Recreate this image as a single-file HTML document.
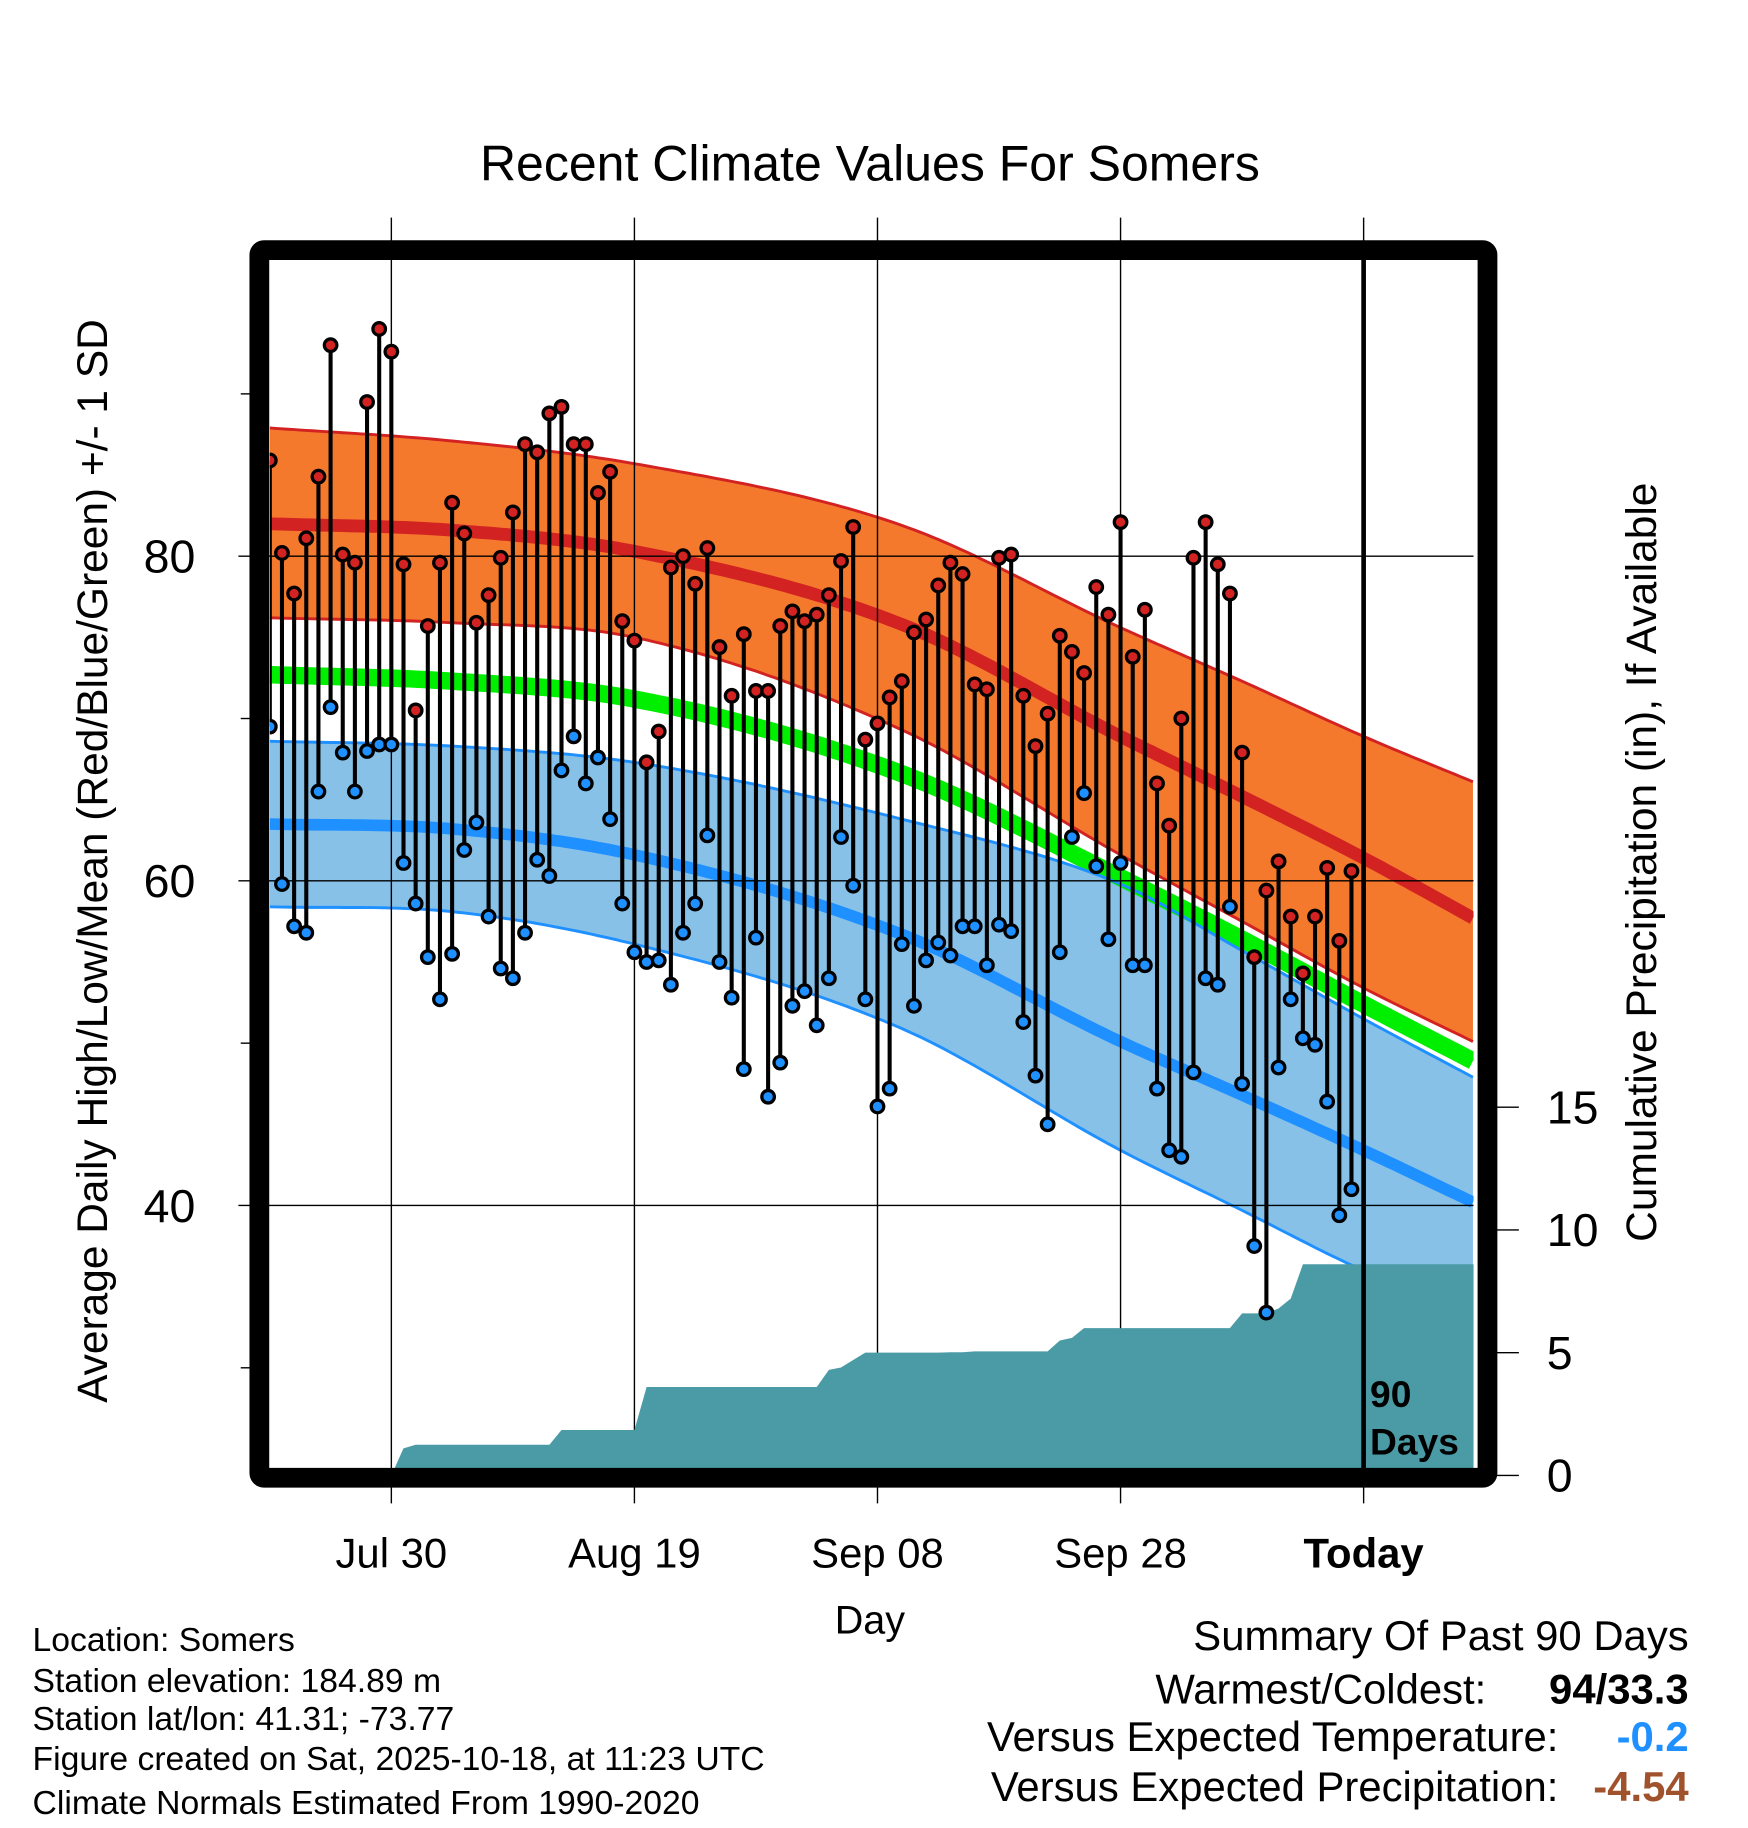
<!DOCTYPE html>
<html><head><meta charset="utf-8"><title>Recent Climate Values For Somers</title>
<style>
html,body{margin:0;padding:0;background:#fff;}
svg{display:block;}
text{font-family:"Liberation Sans",Arial,sans-serif;}
</style></head>
<body>
<svg id="chart" xmlns="http://www.w3.org/2000/svg" width="1748" height="1828" viewBox="0 0 1503 1571" preserveAspectRatio="none">
<defs><clipPath id="plotclip"><rect x="232" y="223.5" width="1035" height="1038.5"/></clipPath></defs>
<rect width="1503" height="1571" fill="#fff"/>
<text x="748" y="155" font-size="43" text-anchor="middle">Recent Climate Values For Somers</text>
<g id="normals" clip-path="url(#plotclip)"></g>
<g id="grid"></g>
<g id="precip" clip-path="url(#plotclip)"></g>
<g id="obs" clip-path="url(#plotclip)"></g>
<g id="axes"></g>
<text x="1178" y="1209" font-size="32" font-weight="bold">90</text>
<text x="1178" y="1250" font-size="32" font-weight="bold">Days</text>
<rect x="223" y="215" width="1056" height="1055" rx="4" fill="none" stroke="#000" stroke-width="17"/>
<text transform="translate(92,740) rotate(-90)" font-size="36.5" text-anchor="middle">Average Daily High/Low/Mean (Red/Blue/Green) +/- 1 SD</text>
<text transform="translate(1424,741) rotate(-90)" font-size="36.5" text-anchor="middle">Cumulative Precipitation (in), If Available</text>
<text x="748" y="1404" font-size="34" text-anchor="middle">Day</text>
<g font-size="29">
<text x="28" y="1419">Location: Somers</text>
<text x="28" y="1454">Station elevation: 184.89 m</text>
<text x="28" y="1487">Station lat/lon: 41.31; -73.77</text>
<text x="28" y="1521">Figure created on Sat, 2025-10-18, at 11:23 UTC</text>
<text x="28" y="1559">Climate Normals Estimated From 1990-2020</text>
</g>
<g font-size="36">
<text x="1452" y="1418" text-anchor="end">Summary Of Past 90 Days</text>
<text x="1278" y="1464" text-anchor="end">Warmest/Coldest:</text>
<text x="1452" y="1464" text-anchor="end" font-weight="bold">94/33.3</text>
<text x="1340" y="1505" text-anchor="end">Versus Expected Temperature:</text>
<text x="1452" y="1505" text-anchor="end" font-weight="bold" fill="#1e90ff">-0.2</text>
<text x="1340" y="1548" text-anchor="end">Versus Expected Precipitation:</text>
<text x="1452" y="1548" text-anchor="end" font-weight="bold" fill="#a0522d">-4.54</text>
</g>
</svg>
<script>
const highs=[85.9,80.2,77.7,81.1,84.9,93.0,80.1,79.6,89.5,94.0,92.6,79.5,70.5,75.7,79.6,83.3,81.4,75.9,77.6,79.9,82.7,86.9,86.4,88.8,89.2,86.9,86.9,83.9,85.2,76.0,74.8,67.3,69.2,79.3,80.0,78.3,80.5,74.4,71.4,75.2,71.7,71.7,75.7,76.6,76.0,76.4,77.6,79.7,81.8,68.7,69.7,71.3,72.3,75.3,76.1,78.2,79.6,78.9,72.1,71.8,79.9,80.1,71.4,68.3,70.3,75.1,74.1,72.8,78.1,76.4,82.1,73.8,76.7,66.0,63.4,70.0,79.9,82.1,79.5,77.7,67.9,55.3,59.4,61.2,57.8,54.3,57.8,60.8,56.3,60.6];
const lows=[69.5,59.8,57.2,56.8,65.5,70.7,67.9,65.5,68.0,68.4,68.4,61.1,58.6,55.3,52.7,55.5,61.9,63.6,57.8,54.6,54.0,56.8,61.3,60.3,66.8,68.9,66.0,67.6,63.8,58.6,55.6,55.0,55.1,53.6,56.8,58.6,62.8,55.0,52.8,48.4,56.5,46.7,48.8,52.3,53.2,51.1,54.0,62.7,59.7,52.7,46.1,47.2,56.1,52.3,55.1,56.2,55.4,57.2,57.2,54.8,57.3,56.9,51.3,48.0,45.0,55.6,62.7,65.4,60.9,56.4,61.1,54.8,54.8,47.2,43.4,43.0,48.2,54.0,53.6,58.4,47.5,37.5,33.4,48.5,52.7,50.3,49.9,46.4,39.4,41.0];
const precipCum=[0,0,0,0,0,0,0,0,0,0,0,1.1,1.25,1.25,1.25,1.25,1.25,1.25,1.25,1.25,1.25,1.25,1.25,1.25,1.85,1.85,1.85,1.85,1.85,1.85,1.85,3.6,3.6,3.6,3.6,3.6,3.6,3.6,3.6,3.6,3.6,3.6,3.6,3.6,3.6,3.6,4.3,4.4,4.7,5.0,5.0,5.0,5.0,5.0,5.0,5.0,5.02,5.02,5.05,5.05,5.05,5.05,5.05,5.05,5.05,5.5,5.6,6.0,6.0,6.0,6.0,6.0,6.0,6.0,6.0,6.0,6.0,6.0,6.0,6.0,6.6,6.6,6.6,6.8,7.2,8.6,8.6,8.6,8.6,8.6];
const normDays=[0,15,30,52,70,80,90,99];
const normHighUpper=[87.9,87.1,85.7,81.9,75.6,72.3,68.9,66.1];
const normHigh=[82.0,81.6,80.3,75.8,68.9,65.2,61.4,57.7];
const normHighLower=[76.2,75.9,75.0,69.3,61.6,57.5,53.4,50.1];
const normMean=[72.7,72.3,71.2,66.6,60.2,56.4,52.4,48.9];
const normLowUpper=[68.6,68.3,67.3,63.8,59.8,55.7,51.5,47.9];
const normLow=[63.5,63.2,61.6,56.7,50.1,46.8,43.4,40.2];
const normLowLower=[58.4,58.1,56.1,50.9,43.4,39.7,36.0,33.5];
const yTicks=[40,60,80];
const yMinor=[30,50,70,90];
const pTicks=[0,5,10,15];
const xTickDays=[10,30,50,70,90];
const xTickLabels=["Jul 30","Aug 19","Sep 08","Sep 28","Today"];

const NS="http://www.w3.org/2000/svg";
const xOf=d=>232+d*10.45;
const yOf=t=>478+(80-t)*13.95;
const yP=p=>1268-p*21.1;
function mk(tag,attrs,parent){const e=document.createElementNS(NS,tag);for(const k in attrs)e.setAttribute(k,attrs[k]);parent.appendChild(e);return e;}
function curve(vals){
  const n=normDays.length;
  const s=[];for(let k=0;k<n-1;k++)s.push((vals[k+1]-vals[k])/(normDays[k+1]-normDays[k]));
  const m=[];for(let k=0;k<n;k++){m.push(k===0?s[0]:k===n-1?s[n-2]:(s[k-1]+s[k])/2);}
  const pts=[];
  for(let d=0;d<=99;d+=0.5){
    let i=0;while(i<n-2&&d>normDays[i+1])i++;
    const h=normDays[i+1]-normDays[i];const t=(d-normDays[i])/h;
    const t2=t*t,t3=t2*t;
    const v=(2*t3-3*t2+1)*vals[i]+(t3-2*t2+t)*h*m[i]+(-2*t3+3*t2)*vals[i+1]+(t3-t2)*h*m[i+1];
    pts.push([xOf(d),yOf(v)]);
  }
  return pts;
}
const P=pts=>pts.map((p,i)=>(i?'L':'M')+p[0].toFixed(1)+' '+p[1].toFixed(1)).join(' ');
const band=(a,b)=>P(a)+' '+b.slice().reverse().map(p=>'L'+p[0].toFixed(1)+' '+p[1].toFixed(1)).join(' ')+' Z';

const gN=document.getElementById('normals');
const hu=curve(normHighUpper),hl=curve(normHighLower),lu=curve(normLowUpper),ll=curve(normLowLower);
let e;
e=mk('path',{d:band(hu,hl),fill:'#f4792d'},gN);


e=mk('path',{d:band(lu,ll),fill:'#87c1e8'},gN);


[[hu,'#d22222',2.5,'high-upper-line'],[hl,'#d22222',2.5,'high-lower-line'],[curve(normHigh),'#d22222',11,'normal-high-line'],[curve(normMean),'#00ee00',15,'normal-mean-line'],[lu,'#1e90ff',2.5,'low-upper-line'],[ll,'#1e90ff',2.5,'low-lower-line'],[curve(normLow),'#1e90ff',10,'normal-low-line']].forEach(c=>{
  e=mk('path',{d:P(c[0]),fill:'none',stroke:c[1],'stroke-width':c[2]},gN);
  
  
});

const gG=document.getElementById('grid');
yTicks.forEach(t=>{
  e=mk('line',{x1:205,x2:1267,y1:yOf(t),y2:yOf(t),stroke:'#000','stroke-width':1.2},gG);
  
  
  e=mk('text',{x:168,y:yOf(t)+14,'font-size':40,'text-anchor':'end'},gG);
  e.textContent=t;
  
  
});
yMinor.forEach(t=>{
  e=mk('line',{x1:207,x2:216,y1:yOf(t),y2:yOf(t),stroke:'#000','stroke-width':1.2},gG);
  
  
});
xTickDays.forEach((d,i)=>{
  e=mk('line',{x1:xOf(d),x2:xOf(d),y1:187,y2:1292,stroke:'#000','stroke-width':1.2},gG);
  
  
  e=mk('text',{x:xOf(d),y:1347,'font-size':36,'text-anchor':'middle','font-weight':i===4?'bold':'normal'},gG);
  e.textContent=xTickLabels[i];
  
  
});

const gP=document.getElementById('precip');
let pd='M'+xOf(0)+' 1275';
precipCum.forEach((p,d)=>{pd+=' L'+xOf(d).toFixed(1)+' '+yP(p).toFixed(1);});
pd+=' L1275 '+yP(precipCum[precipCum.length-1]).toFixed(1)+' L1275 1275 Z';
e=mk('path',{d:pd,fill:'#4a9ba5'},gP);



const gO=document.getElementById('obs');
highs.forEach((h,i)=>{
  const x=xOf(i);
  e=mk('line',{x1:x,x2:x,y1:yOf(h),y2:yOf(lows[i]),stroke:'#000','stroke-width':3.5},gO);
  
  
});
highs.forEach((h,i)=>{
  const x=xOf(i);
  e=mk('circle',{cx:x,cy:yOf(h),r:5.4,fill:'#d22222',stroke:'#000','stroke-width':2.8},gO);
  
  
  e=mk('circle',{cx:x,cy:yOf(lows[i]),r:5.4,fill:'#1e90ff',stroke:'#000','stroke-width':2.8},gO);
  
  
});

const gA=document.getElementById('axes');
e=mk('line',{x1:xOf(90),x2:xOf(90),y1:223,y2:1262,stroke:'#000','stroke-width':4},gA);


pTicks.forEach(p=>{
  e=mk('line',{x1:1285,x2:1306,y1:yP(p),y2:yP(p),stroke:'#000','stroke-width':1.2},gA);
  
  
  e=mk('text',{x:1330,y:yP(p)+14,'font-size':40},gA);
  e.textContent=p;
  
  
});
</script>
</body></html>
